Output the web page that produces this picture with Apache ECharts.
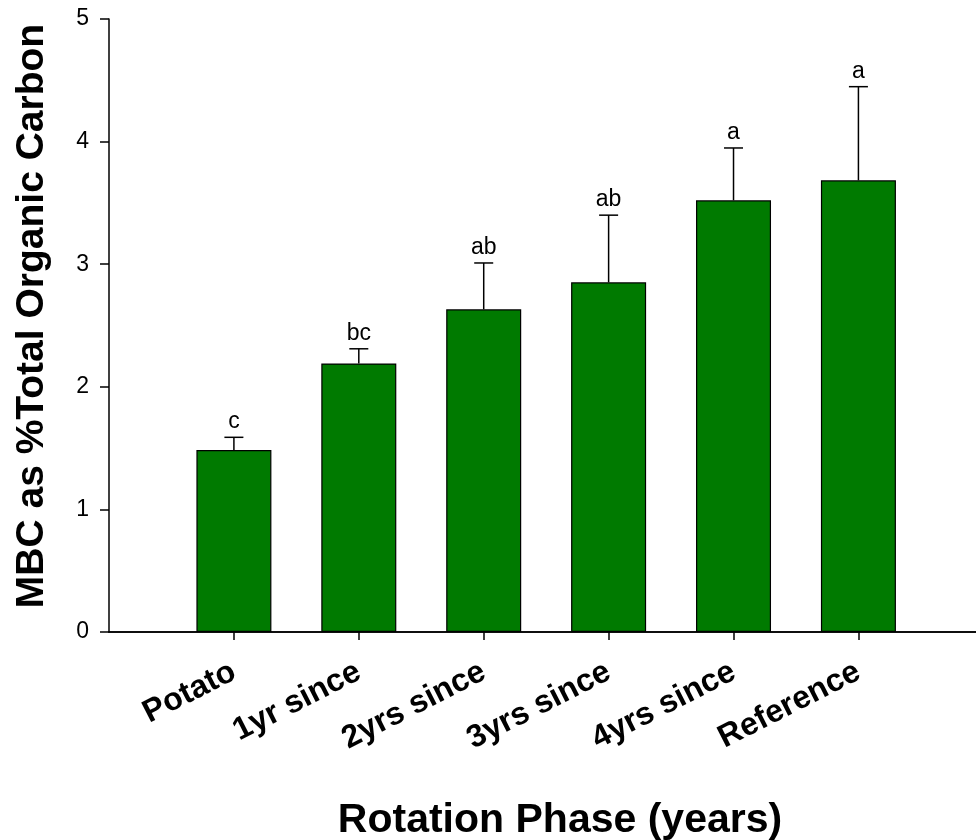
<!DOCTYPE html>
<html>
<head>
<meta charset="utf-8">
<script src="https://cdn.jsdelivr.net/npm/echarts@6/dist/echarts.min.js"></script>
<style>
  html, body { margin: 0; padding: 0; background: #fff; overflow: hidden; }
  /* the plot frame runs slightly past the right edge of the page */
  #chart { width: 986px; height: 840px; }
</style>
</head>
<body>
<div id="chart"></div>
<script>
// Rotation phases and microbial biomass carbon as a share of total organic carbon
const phases = ['Potato', '1yr since', '2yrs since', '3yrs since', '4yrs since', 'Reference'];
const mbcMean = [1.484, 2.19, 2.632, 2.852, 3.521, 3.684];
const mbcErr = [0.104, 0.12, 0.378, 0.548, 0.427, 0.764];
const groupLetters = ['c', 'bc', 'ab', 'ab', 'a', 'a'];
const yTicks = [0, 1, 2, 3, 4, 5];

const FONT = '"Liberation Sans", Arial, sans-serif';

// pad the category axis so the first bar sits one step in from the y axis
const axisCats = [''].concat(phases, ['']);
const barData = ['-'].concat(mbcMean, ['-']);
const errData = phases.map((p, i) => [i + 1, mbcMean[i], mbcMean[i] + mbcErr[i], groupLetters[i]]);

const chart = echarts.init(document.getElementById('chart'));

chart.setOption({
  animation: false,
  backgroundColor: '#ffffff',
  grid: { left: 109, top: 19, right: 0, bottom: 208, containLabel: false },
  xAxis: [
    {
      type: 'category',
      data: axisCats,
      boundaryGap: false,
      axisLine: { show: true, onZero: false, lineStyle: { color: '#000', width: 1.5 } },
      axisTick: {
        show: true,
        length: 8,
        interval: (i, v) => v !== '',
        lineStyle: { color: '#000', width: 1.5 }
      },
      axisLabel: {
        interval: 0,
        rotate: 27,
        margin: 38,
        color: '#000',
        fontFamily: FONT,
        fontWeight: 'bold',
        fontSize: 32
      },
      splitLine: { show: false }
    },
    {
      type: 'category',
      data: axisCats,
      boundaryGap: false,
      position: 'top',
      axisLine: { show: true, lineStyle: { color: '#000', width: 1.5 } },
      axisTick: { show: false },
      axisLabel: { show: false },
      splitLine: { show: false }
    }
  ],
  yAxis: {
    type: 'value',
    min: yTicks[0],
    max: yTicks[yTicks.length - 1],
    interval: 1,
    axisLine: { show: true, lineStyle: { color: '#000', width: 1.5 } },
    axisTick: { show: true, inside: false, length: 9, lineStyle: { color: '#000', width: 1.5 } },
    axisLabel: { color: '#000', fontFamily: FONT, fontSize: 23, margin: 20 },
    splitLine: { show: false }
  },
  series: [
    {
      type: 'bar',
      data: barData,
      barWidth: 75,
      itemStyle: { color: '#007a00', borderColor: '#000', borderWidth: 1.2 },
      z: 2
    },
    {
      type: 'custom',
      data: errData,
      z: 3,
      renderItem: function (params, api) {
        const x = api.value(0);
        const top = api.coord([x, api.value(2)]);
        const base = api.coord([x, api.value(1)]);
        const half = 9.5;
        return {
          type: 'group',
          children: [
            {
              type: 'line',
              shape: { x1: top[0], y1: base[1], x2: top[0], y2: top[1] },
              style: { stroke: '#000', lineWidth: 1.5 }
            },
            {
              type: 'line',
              shape: { x1: top[0] - half, y1: top[1], x2: top[0] + half, y2: top[1] },
              style: { stroke: '#000', lineWidth: 1.5 }
            },
            {
              type: 'text',
              x: top[0],
              y: top[1] - 4,
              style: {
                text: errData[params.dataIndex][3],
                fill: '#000',
                font: '23px ' + FONT,
                textAlign: 'center',
                textVerticalAlign: 'bottom'
              }
            }
          ]
        };
      }
    }
  ],
  graphic: [
    {
      type: 'text',
      x: 560,
      y: 821,
      style: {
        text: 'Rotation Phase (years)',
        fill: '#000',
        font: 'bold 41px ' + FONT,
        textAlign: 'center',
        textVerticalAlign: 'middle'
      }
    },
    {
      type: 'text',
      x: 32,
      y: 316,
      rotation: Math.PI / 2,
      style: {
        text: 'MBC as %Total Organic Carbon',
        fill: '#000',
        font: 'bold 39px ' + FONT,
        textAlign: 'center',
        textVerticalAlign: 'middle'
      }
    }
  ]
});
</script>
</body>
</html>
